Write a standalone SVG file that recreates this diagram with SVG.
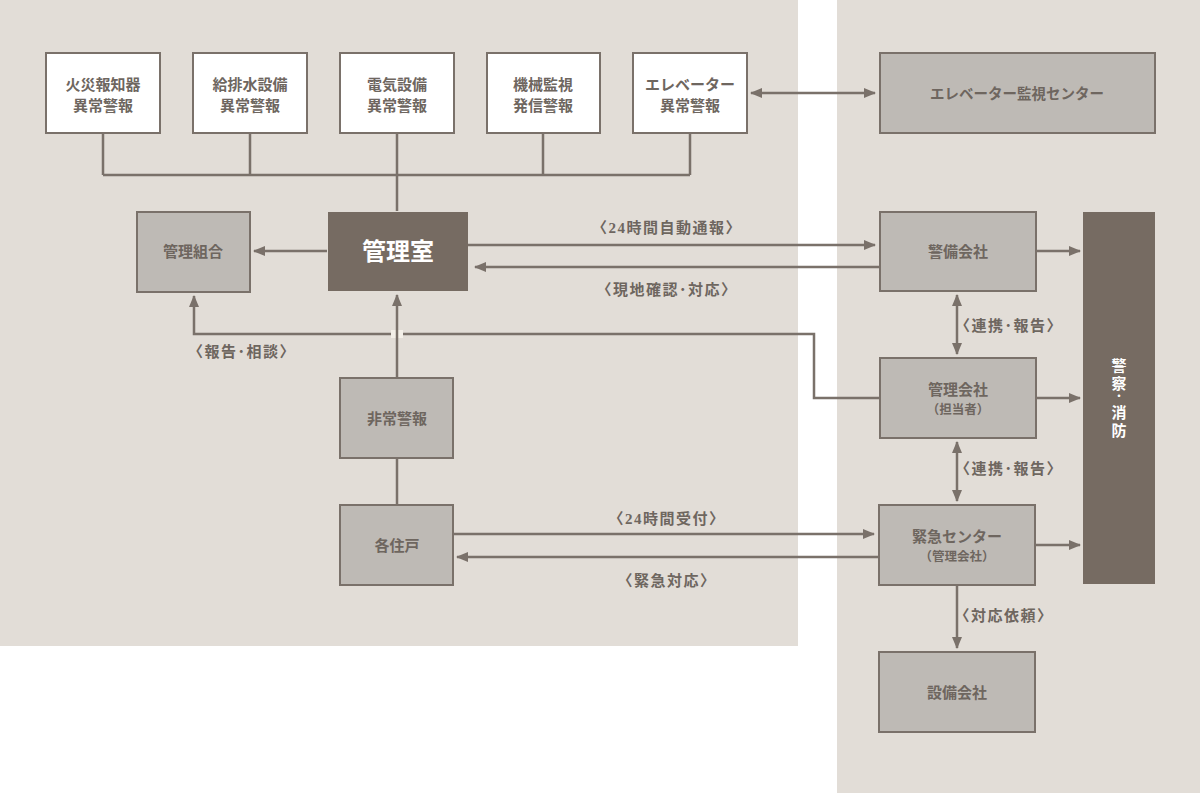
<svg xmlns="http://www.w3.org/2000/svg" width="1200" height="793" viewBox="0 0 1200 793">
<defs>
<style>
.bg{fill:#e2ddd7}
.wbox{fill:#ffffff;stroke:#7a716a;stroke-width:2}
.gbox{fill:#bebab5;stroke:#7a716a;stroke-width:2}
.dbox{fill:#766b62}
.t{font-family:"Liberation Serif","Noto Sans CJK JP",serif;font-weight:bold;fill:#6e665f;font-size:15px;text-anchor:middle}
.ts{font-size:12.5px}
.tw{fill:#ffffff}
.lbl{font-family:"Liberation Serif","Noto Sans CJK JP",serif;font-weight:bold;fill:#6e665f;font-size:15px;letter-spacing:1.5px;text-anchor:middle}
.ln{fill:none;stroke:#7a716a;stroke-width:2.5}
.arr{fill:none;stroke:#7a716a;stroke-width:2.5;marker-end:url(#ah)}
.arr2{fill:none;stroke:#7a716a;stroke-width:2.5;marker-end:url(#ah);marker-start:url(#ah)}
</style>
<marker id="ah" markerUnits="userSpaceOnUse" markerWidth="12" markerHeight="12" refX="11" refY="6" orient="auto-start-reverse" viewBox="0 0 12 12">
<path d="M0,1 L12,6 L0,11 z" fill="#7a716a"/>
</marker>
</defs>
<rect width="1200" height="793" fill="#ffffff"/>
<rect class="bg" x="0" y="0" width="798" height="646"/>
<rect class="bg" x="837" y="0" width="363" height="793"/>

<g id="connectors">
<path class="ln" d="M103,133 V175 M250,133 V175 M397,133 V211 M543,133 V175 M690,133 V175 M103,175 H690"/>
<path class="arr2" d="M751,93 H875"/>
<path class="arr" d="M327,251 H254"/>
<path class="arr" d="M468,245 H875"/>
<path class="arr" d="M880,267 H475"/>
<path class="arr" d="M880,398 H814 V334 H194 V296"/>
<rect x="391" y="330" width="12" height="8" fill="#f3efe8"/>
<path class="arr" d="M397,378 V295"/>
<path class="ln" d="M397,458 V505"/>
<path class="arr" d="M453,534 H874"/>
<path class="arr" d="M880,557 H457"/>
<path class="arr" d="M1036,251 H1080"/>
<path class="arr" d="M1036,398 H1080"/>
<path class="arr" d="M1035,545 H1080"/>
<path class="arr2" d="M957,295 V354"/>
<path class="arr2" d="M957,442 V501"/>
<path class="arr" d="M957,585 V648"/>
<text class="lbl" x="667" y="233">〈24時間自動通報〉</text>
<text class="lbl" x="667" y="295">〈現地確認･対応〉</text>
<text class="lbl" x="242" y="357">〈報告･相談〉</text>
<text class="lbl" x="1009" y="331">〈連携･報告〉</text>
<text class="lbl" x="1009" y="474">〈連携･報告〉</text>
<text class="lbl" x="1004" y="621">〈対応依頼〉</text>
<text class="lbl" x="667" y="524">〈24時間受付〉</text>
<text class="lbl" x="667" y="586">〈緊急対応〉</text>
</g>

<g id="n1"><rect class="wbox" x="46" y="53" width="114" height="80"/><text class="t" x="103" y="90">火災報知器</text><text class="t" x="103" y="111">異常警報</text></g>
<g id="n2"><rect class="wbox" x="193" y="53" width="114" height="80"/><text class="t" x="250" y="90">給排水設備</text><text class="t" x="250" y="111">異常警報</text></g>
<g id="n3"><rect class="wbox" x="340" y="53" width="114" height="80"/><text class="t" x="397" y="90">電気設備</text><text class="t" x="397" y="111">異常警報</text></g>
<g id="n4"><rect class="wbox" x="487" y="53" width="113" height="80"/><text class="t" x="543" y="90">機械監視</text><text class="t" x="543" y="111">発信警報</text></g>
<g id="n5"><rect class="wbox" x="633" y="53" width="114" height="80"/><text class="t" x="690" y="90">エレベーター</text><text class="t" x="690" y="111">異常警報</text></g>
<g id="n6"><rect class="gbox" x="880" y="53" width="275" height="80"/><text class="t" x="1017" y="99" style="font-size:14.5px">エレベーター監視センター</text></g>
<g id="n7"><rect class="gbox" x="137" y="212" width="113" height="80"/><text class="t" x="193" y="257">管理組合</text></g>
<g id="n8"><rect class="dbox" x="328" y="212" width="140" height="79"/><text class="t tw" x="398" y="260" style="font-size:24px">管理室</text></g>
<g id="n9"><rect class="gbox" x="340" y="378" width="113" height="80"/><text class="t" x="397" y="424">非常警報</text></g>
<g id="n10"><rect class="gbox" x="340" y="505" width="113" height="80"/><text class="t" x="397" y="551">各住戸</text></g>
<g id="n11"><rect class="gbox" x="880" y="212" width="156" height="79"/><text class="t" x="958" y="257">警備会社</text></g>
<g id="n12"><rect class="gbox" x="880" y="358" width="156" height="80"/><text class="t" x="958" y="395">管理会社</text><text class="t ts" x="958" y="414">（担当者）</text></g>
<g id="n13"><rect class="gbox" x="879" y="505" width="156" height="80"/><text class="t" x="957" y="542">緊急センター</text><text class="t ts" x="957" y="561">（管理会社）</text></g>
<g id="n14"><rect class="gbox" x="879" y="652" width="156" height="80"/><text class="t" x="957" y="698">設備会社</text></g>
<g id="n15"><rect class="dbox" x="1083" y="212" width="72" height="372"/>
<text class="t tw" x="1119" y="371" style="font-size:15px">警</text>
<text class="t tw" x="1119" y="389" style="font-size:15px">察</text>
<text class="t tw" x="1119" y="400" style="font-size:10px">・</text>
<text class="t tw" x="1119" y="418" style="font-size:15px">消</text>
<text class="t tw" x="1119" y="436" style="font-size:15px">防</text>
</g>
</svg>
